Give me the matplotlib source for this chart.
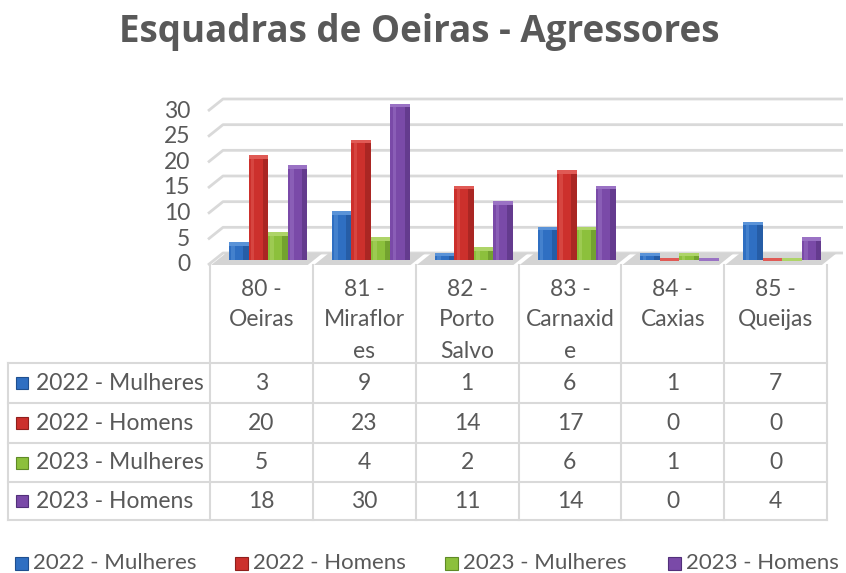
import numpy as np
import matplotlib
matplotlib.use("Agg")
import matplotlib.pyplot as plt
from matplotlib.patches import Polygon, Rectangle

title = "Esquadras de Oeiras - Agressores"
categories = ["80 -\nOeiras", "81 -\nMiraflor\nes", "82 -\nPorto\nSalvo",
              "83 -\nCarnaxid\ne", "84 -\nCaxias", "85 -\nQueijas"]
series = ["2022 - Mulheres", "2022 - Homens", "2023 - Mulheres", "2023 - Homens"]
mulheres_2022 = [3, 9, 1, 6, 1, 7]
homens_2022 = [20, 23, 14, 17, 0, 0]
mulheres_2023 = [5, 4, 2, 6, 1, 0]
homens_2023 = [18, 30, 11, 14, 0, 4]
y_ticks = [0, 5, 10, 15, 20, 25, 30]

values = [mulheres_2022, homens_2022, mulheres_2023, homens_2023]
colors = ["#2f6fc2", "#cc302c", "#8cc03c", "#7a4aa8"]
darks = ["#1f4f8f", "#8f1f1c", "#5f8a26", "#52307a"]
lights = ["#5a93d8", "#e05a55", "#aed468", "#9a72c4"]
text_col = "#595959"
grid_col = "#d9d9d9"
FONT = "Lato"
FS = 16.5

W, H = 846, 573
fig = plt.figure(figsize=(W / 100, H / 100), dpi=100)


def fx(px):
    return px / W


def fy(py):
    return 1 - py / H


# pixel frame for bar axes
x0_px, x1_px = 210, 827
zero_px, top_px = 260, 106
s = (zero_px - top_px) / 30.0  # px per unit
ux = (x1_px - x0_px) / len(categories)  # px per category

ax = fig.add_axes([fx(x0_px), fy(270), fx(x1_px) - fx(x0_px), fy(90) - fy(270)])
ax.set_xlim(-0.5, len(categories) - 0.5)
ax.set_ylim(-(270 - zero_px) / s, (zero_px - 90) / s)
ax.axis("off")

back_dy = 7 / s
front_dy = -5 / s
back_dx = 13 / ux
front_dx = -2 / ux

# back wall gridlines with slanted side wall
for t in y_ticks:
    ax.plot([-0.5 + front_dx, -0.5 + back_dx, len(categories) - 0.5 + 16 / ux],
            [t + front_dy, t + back_dy, t + back_dy],
            color=grid_col, lw=2, clip_on=False, zorder=0, solid_capstyle="butt")
    ax.text(-0.5 - 20 / ux, t + front_dy, str(t), ha="right", va="center",
            fontsize=FS, color=text_col, family=FONT)

# floor
x = np.arange(len(categories))
for xi in x:
    gap = 0.03
    ax.add_patch(Polygon([(xi - 0.5 + gap + front_dx, front_dy),
                          (xi + 0.5 - gap + front_dx, front_dy),
                          (xi + 0.5 - gap + back_dx, back_dy),
                          (xi - 0.5 + gap + back_dx, back_dy)],
                         closed=True, facecolor="#d4d4d4", edgecolor="none",
                         zorder=1, clip_on=False))

bw = 0.19
start = -0.315
for i, vals in enumerate(values):
    left = x + start + i * bw
    v = np.array(vals, dtype=float)
    ax.bar(left, v, width=bw, align="edge", color=colors[i], zorder=3)
    # darker right side
    ax.bar(left + bw * 0.72, v, width=bw * 0.28, align="edge", color=darks[i],
           alpha=0.55, zorder=4)
    # lighter left highlight
    ax.bar(left + bw * 0.12, v, width=bw * 0.18, align="edge", color=lights[i],
           alpha=0.5, zorder=4)
    # top cap
    ax.bar(left, np.full_like(v, 0.7), bottom=v - 0.25, width=bw, align="edge",
           color=lights[i], zorder=5)

# overlay in pixel coordinates for title, table and legend
ov = fig.add_axes([0, 0, 1, 1])
ov.set_xlim(0, W)
ov.set_ylim(H, 0)
ov.axis("off")
ov.patch.set_alpha(0)

ov.text(419, 32, title, ha="center", va="center", fontsize=26.5, fontweight="bold",
        color=text_col, family="Open Sans")

col_edges = np.linspace(x0_px, x1_px, len(categories) + 1)
row_edges = [363, 403, 443, 482, 520]
lw_tab = 1.5
for cx in col_edges:
    ov.plot([cx, cx], [265, row_edges[-1]], color=grid_col, lw=lw_tab)
for ry in row_edges:
    ov.plot([8, x1_px], [ry, ry], color=grid_col, lw=lw_tab)
ov.plot([8, 8], [row_edges[0], row_edges[-1]], color=grid_col, lw=lw_tab)

for j, cat in enumerate(categories):
    cxm = (col_edges[j] + col_edges[j + 1]) / 2
    for k, line in enumerate(cat.split("\n")):
        ov.text(cxm, 289 + k * 31, line, ha="center", va="center",
                fontsize=FS, color=text_col, family=FONT)

for i, name in enumerate(series):
    cy = (row_edges[i] + row_edges[i + 1]) / 2
    ov.add_patch(Rectangle((16, cy - 6), 12, 12, facecolor=colors[i],
                           edgecolor=darks[i], lw=0.8))
    ov.text(36, cy, name, ha="left", va="center", fontsize=FS,
            color=text_col, family=FONT)
    for j, val in enumerate(values[i]):
        cxm = (col_edges[j] + col_edges[j + 1]) / 2
        ov.text(cxm, cy, str(val), ha="center", va="center", fontsize=FS,
                color=text_col, family=FONT)

# bottom legend
leg_x = [15, 235, 445, 668]
for i, name in enumerate(series):
    ov.add_patch(Rectangle((leg_x[i], 557), 13, 13, facecolor=colors[i],
                           edgecolor=darks[i], lw=0.8))
    ov.text(leg_x[i] + 18, 563, name, ha="left", va="center", fontsize=16,
            color=text_col, family=FONT)

fig.savefig("out.png", dpi=100)
